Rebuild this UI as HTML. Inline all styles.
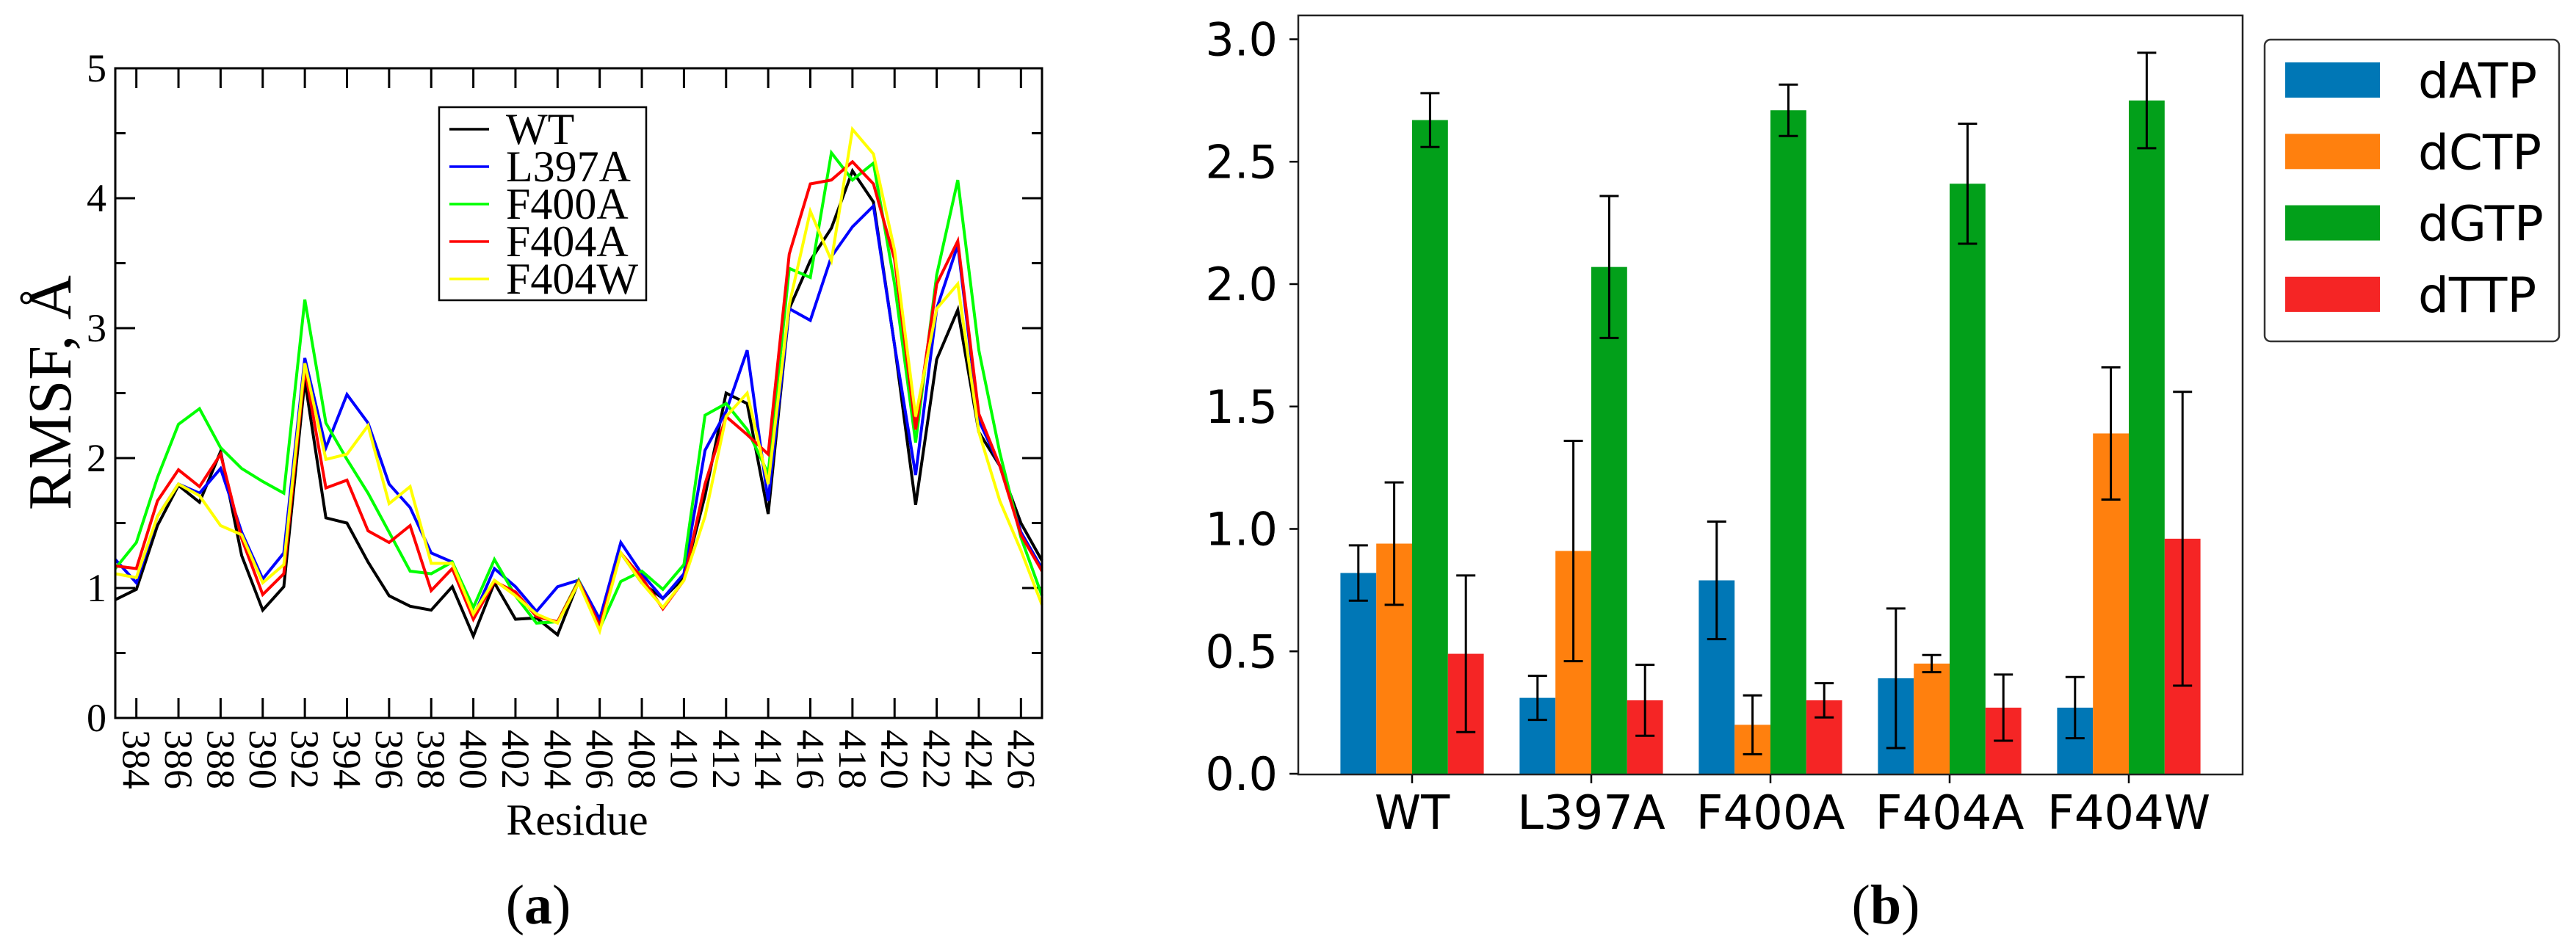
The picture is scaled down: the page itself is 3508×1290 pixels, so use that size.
<!DOCTYPE html>
<html><head><meta charset="utf-8"><style>
html,body{margin:0;padding:0;background:#fff;}
svg{display:block;}
</style></head><body>
<svg id="fig" xmlns="http://www.w3.org/2000/svg" width="3508" height="1290" viewBox="0 0 3508 1290">
<rect x="0" y="0" width="3508" height="1290" fill="#fff"/>
<g id="pa"></g>
<g id="pb"></g>
</svg>
<script>
const residues = [];
for (let r = 383; r <= 427; r++) residues.push(r);
const seriesNames = ["WT","L397A","F400A","F404A","F404W"];
const wtValues = [0.91,0.99,1.48,1.79,1.66,2.05,1.25,0.83,1.01,2.6,1.54,1.5,1.2,0.94,0.86,0.83,1.01,0.63,1.04,0.76,0.77,0.64,1.05,0.73,1.27,1.04,0.92,1.08,1.71,2.5,2.42,1.57,3.15,3.52,3.77,4.21,3.97,2.87,1.64,2.76,3.14,2.2,1.94,1.5,1.21];
const l397aValues = [1.22,1.04,1.55,1.8,1.73,1.92,1.43,1.07,1.27,2.77,2.08,2.49,2.27,1.8,1.62,1.27,1.2,0.78,1.15,1.01,0.82,1.01,1.06,0.76,1.35,1.11,0.92,1.11,2.06,2.36,2.83,1.67,3.15,3.06,3.55,3.78,3.94,2.87,1.87,3.15,3.64,2.29,1.94,1.43,1.15];
const f400aValues = [1.15,1.35,1.85,2.26,2.38,2.08,1.92,1.82,1.73,3.22,2.27,1.99,1.73,1.43,1.13,1.11,1.2,0.85,1.22,0.94,0.73,0.74,1.06,0.69,1.05,1.13,0.99,1.18,2.33,2.42,2.22,1.88,3.46,3.39,4.35,4.14,4.27,3.34,2.12,3.41,4.14,2.83,2.04,1.39,0.94];
const f404aValues = [1.17,1.15,1.67,1.91,1.78,2.03,1.38,0.95,1.11,2.69,1.77,1.83,1.44,1.35,1.48,0.98,1.15,0.76,1.05,0.97,0.78,0.74,1.05,0.71,1.27,1.08,0.84,1.06,1.8,2.32,2.18,2.03,3.57,4.11,4.14,4.28,4.11,3.53,2.22,3.34,3.67,2.34,1.94,1.41,1.13];
const f404wValues = [1.11,1.08,1.55,1.8,1.71,1.48,1.41,1.04,1.18,2.73,1.99,2.03,2.25,1.65,1.78,1.19,1.19,0.8,1.06,0.94,0.8,0.73,1.04,0.67,1.27,1.04,0.85,1.06,1.55,2.32,2.5,1.8,3.18,3.9,3.52,4.53,4.34,3.6,2.32,3.15,3.34,2.2,1.67,1.29,0.87];
const yTicksA = [0,1,2,3,4,5];
const xTicksA = [384,386,388,390,392,394,396,398,400,402,404,406,408,410,412,414,416,418,420,422,424,426];

const groups = ["WT","L397A","F400A","F404A","F404W"];
const nucNames = ["dATP","dCTP","dGTP","dTTP"];
const dATP = [0.82,0.31,0.79,0.39,0.27];
const dCTP = [0.94,0.91,0.20,0.45,1.39];
const dGTP = [2.67,2.07,2.71,2.41,2.75];
const dTTP = [0.49,0.30,0.30,0.27,0.96];
const dATPerr = [0.113,0.09,0.24,0.285,0.125];
const dCTPerr = [0.25,0.45,0.12,0.035,0.27];
const dGTPerr = [0.11,0.29,0.105,0.245,0.195];
const dTTPerr = [0.32,0.145,0.07,0.135,0.6];
const yTicksB = ["0.0","0.5","1.0","1.5","2.0","2.5","3.0"];

const NS="http://www.w3.org/2000/svg";
function mk(parent, tag, attrs, text){
  const e=document.createElementNS(NS,tag);
  for(const k in attrs) e.setAttribute(k,attrs[k]);
  if(text!==undefined) e.textContent=text;
  parent.appendChild(e); return e;
}
const TNR='"Liberation Serif", serif';
const DJV='"DejaVu Sans", "Liberation Sans", sans-serif';

// ---------- Panel a ----------
const pa=document.getElementById('pa');
const aL=157,aR=1419,aT=93,aB=978;
const xA=r=>aL+(r-383)*(aR-aL)/44;
const yA=v=>aB-(v/5)*(aB-aT);
// ticks
for(let v=0;v<=5;v+=0.5){
  const y=yA(v), major=Number.isInteger(v), len=major?27:14;
  const t1=mk(pa,'line',{x1:aL,y1:y,x2:aL+len,y2:y,stroke:'#000','stroke-width':3});
  
  
  const t2=mk(pa,'line',{x1:aR,y1:y,x2:aR-len,y2:y,stroke:'#000','stroke-width':3});
  
  
}
yTicksA.forEach(v=>{
  const t=mk(pa,'text',{x:145,y:yA(v)+18,'text-anchor':'end','font-family':TNR,'font-size':54},String(v));
  
  
});
for(let r=383;r<=427;r++){
  if(r%2!==0) continue;
  const x=xA(r);
  const t1=mk(pa,'line',{x1:x,y1:aB,x2:x,y2:aB-27,stroke:'#000','stroke-width':3});
  
  
  const t2=mk(pa,'line',{x1:x,y1:aT,x2:x,y2:aT+27,stroke:'#000','stroke-width':3});
  
  
}
xTicksA.forEach(r=>{
  const x=xA(r);
  const t=mk(pa,'text',{x:0,y:0,'font-family':TNR,'font-size':54,transform:`translate(${x-18},${aB+16}) rotate(90)`},String(r));
  
  
});
const colorsA=['#000000','#0000ff','#00ff00','#ff0000','#ffff00'];
const allA=[wtValues,l397aValues,f400aValues,f404aValues,f404wValues];
allA.forEach((vals,i)=>{
  const pts=vals.map((v,j)=>xA(residues[j]).toFixed(1)+','+yA(v).toFixed(1)).join(' ');
  const p=mk(pa,'polyline',{points:pts,fill:'none',stroke:colorsA[i],'stroke-width':4,'stroke-linejoin':'miter'});
  
  
});
const frameA=mk(pa,'rect',{x:aL,y:aT,width:aR-aL,height:aB-aT,fill:'none',stroke:'#000','stroke-width':3});


// legend a
const lgA=mk(pa,'g',{});


mk(lgA,'rect',{x:598,y:146,width:282,height:263,fill:'#fff',stroke:'#000','stroke-width':2.5});
seriesNames.forEach((n,i)=>{
  const y=176+i*51;
  const e=mk(lgA,'g',{});
  
  
  mk(e,'line',{x1:612,y1:y,x2:666,y2:y,stroke:colorsA[i],'stroke-width':3.5});
  mk(e,'text',{x:689,y:y+20,'font-family':TNR,'font-size':60},n);
});
const yt=mk(pa,'text',{x:0,y:0,'text-anchor':'middle','font-family':TNR,'font-size':84,transform:'translate(96,535) rotate(-90)'},'RMSF, Å');


const xt=mk(pa,'text',{x:786,y:1137,'text-anchor':'middle','font-family':TNR,'font-size':60},'Residue');


const la=mk(pa,'text',{x:733,y:1258,'text-anchor':'middle','font-family':TNR,'font-size':76},'');


mk(la,'tspan',{},'(');mk(la,'tspan',{'font-weight':'bold'},'a');mk(la,'tspan',{},')');

// ---------- Panel b ----------
const pb=document.getElementById('pb');
const bL=1768,bR=3054,bT=21,bB=1055;
const y0B=1054,perB=333.5;
const yB=v=>y0B-v*perB;
const groupW=244, barW=48.8, firstC=1923;
const xG=i=>firstC+i*groupW;
yTicksB.forEach(s=>{
  const v=parseFloat(s),y=yB(v);
  const t=mk(pb,'line',{x1:bL-12,y1:y,x2:bL,y2:y,stroke:'#000','stroke-width':2.5});
  
  
  const l=mk(pb,'text',{x:1740,y:y+22,'text-anchor':'end','font-family':DJV,'font-size':62},s);
  
  
});
const colorsB=['#0077b6','#ff800e','#02a01a','#f52525'];
const valsB=[dATP,dCTP,dGTP,dTTP];
const errsB=[dATPerr,dCTPerr,dGTPerr,dTTPerr];
groups.forEach((g,gi)=>{
  valsB.forEach((arr,k)=>{
    const x=xG(gi)-2*barW+k*barW, v=arr[gi];
    const r=mk(pb,'rect',{x:x,y:yB(v),width:barW,height:yB(0)-yB(v),fill:colorsB[k]});
    
    
  });
  valsB.forEach((arr,k)=>{
    const cx=xG(gi)-2*barW+k*barW+barW/2, v=arr[gi], e=errsB[k][gi];
    const eg=mk(pb,'g',{stroke:'#000','stroke-width':3});
    
    
    mk(eg,'line',{x1:cx,y1:yB(v+e),x2:cx,y2:yB(v-e)});
    mk(eg,'line',{x1:cx-13,y1:yB(v+e),x2:cx+13,y2:yB(v+e)});
    mk(eg,'line',{x1:cx-13,y1:yB(v-e),x2:cx+13,y2:yB(v-e)});
  });
  const t=mk(pb,'line',{x1:xG(gi),y1:bB,x2:xG(gi),y2:bB+12,stroke:'#000','stroke-width':2.5});
  
  
  const l=mk(pb,'text',{x:xG(gi),y:1129,'text-anchor':'middle','font-family':DJV,'font-size':64},g);
  
  
});
const frameB=mk(pb,'rect',{x:bL,y:bT,width:bR-bL,height:bB-bT,fill:'none',stroke:'#222','stroke-width':2.5});


const lgB=mk(pb,'g',{});


mk(lgB,'rect',{x:3084,y:54,width:401,height:411,rx:8,fill:'#fff',stroke:'#333','stroke-width':2.5});
nucNames.forEach((n,k)=>{
  const cy=109+k*97.3;
  const e=mk(lgB,'g',{});
  
  
  mk(e,'rect',{x:3112,y:cy-24,width:129,height:48,fill:colorsB[k]});
  mk(e,'text',{x:3293,y:cy+24,'font-family':DJV,'font-size':66},n);
});
const lb=mk(pb,'text',{x:2568,y:1258,'text-anchor':'middle','font-family':TNR,'font-size':76},'');


mk(lb,'tspan',{},'(');mk(lb,'tspan',{'font-weight':'bold'},'b');mk(lb,'tspan',{},')');
</script>
</body></html>
